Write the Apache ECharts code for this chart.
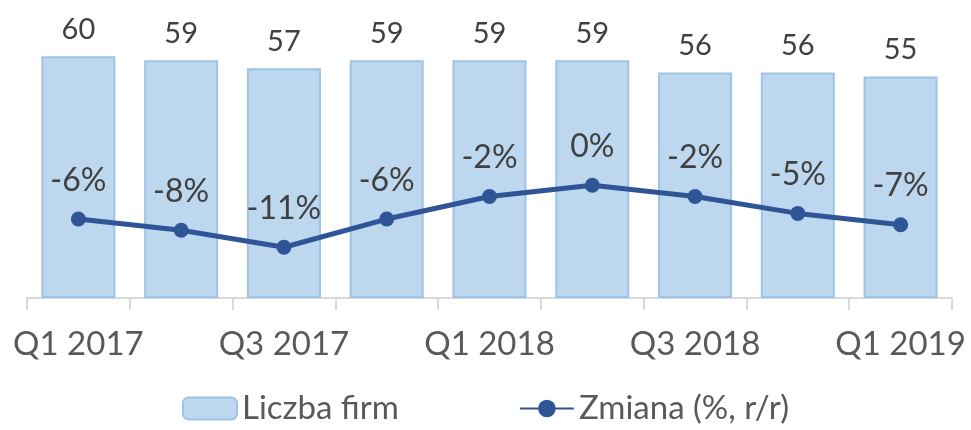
<!DOCTYPE html>
<html>
<head>
<meta charset="utf-8">
<script src="https://cdn.jsdelivr.net/npm/echarts@6/dist/echarts.min.js"></script>
<style>
  html, body { margin: 0; padding: 0; background: #fff; }
  #chart { width: 971px; height: 430px; }
</style>
</head>
<body>
<div id="chart"></div>
<script>
// Quarterly firm count and year-over-year change
const categories = ['Q1 2017', 'Q2 2017', 'Q3 2017', 'Q4 2017', 'Q1 2018', 'Q2 2018', 'Q3 2018', 'Q4 2018', 'Q1 2019'];
const firmCount = [60, 59, 57, 59, 59, 59, 56, 56, 55];
const changePct = [-6, -8, -11, -6, -2, 0, -2, -5, -7];

const FONT = 'Lato';
const WEIGHT = 400;
const chart = echarts.init(document.getElementById('chart'));

chart.setOption({
  animation: false,
  textStyle: { fontFamily: FONT, fontWeight: WEIGHT },
  grid: { left: 27, right: 19, top: 16, bottom: 132 },
  legend: {
    bottom: 0,
    left: 'center',
    itemWidth: 54,
    itemHeight: 22,
    itemGap: 120,
    textStyle: { fontFamily: FONT, fontWeight: WEIGHT, fontSize: 33, color: '#595959' },
    data: ['Liczba firm', 'Zmiana (%, r/r)']
  },
  xAxis: {
    type: 'category',
    data: categories,
    axisLine: { lineStyle: { color: '#D9D9D9', width: 2 } },
    axisTick: { show: true, interval: 0, length: 12, lineStyle: { color: '#D9D9D9', width: 2 } },
    axisLabel: { interval: 1, margin: 30, fontFamily: FONT, fontWeight: WEIGHT, fontSize: 33, color: '#595959' }
  },
  yAxis: [
    { type: 'value', min: 0, max: 70, show: false, splitLine: { show: false } },
    { type: 'value', min: -20, max: 30, show: false, splitLine: { show: false } }
  ],
  series: [
    {
      name: 'Liczba firm',
      type: 'bar',
      data: firmCount,
      barCategoryGap: '28%',
      itemStyle: { color: '#BDD7EE', borderColor: '#9DC3E6', borderWidth: 2 },
      label: {
        show: true,
        position: 'top',
        distance: 12,
        fontFamily: FONT,
        fontWeight: WEIGHT,
        fontSize: 29,
        color: '#404040'
      }
    },
    {
      name: 'Zmiana (%, r/r)',
      type: 'line',
      yAxisIndex: 1,
      data: changePct,
      symbol: 'circle',
      symbolSize: 15,
      lineStyle: { color: '#2F5597', width: 5 },
      itemStyle: { color: '#2F5597' },
      label: {
        show: true,
        position: 'top',
        distance: 15,
        fontFamily: FONT,
        fontWeight: WEIGHT,
        fontSize: 32,
        color: '#404040',
        formatter: p => p.value + '%'
      }
    }
  ]
});
</script>
</body>
</html>
